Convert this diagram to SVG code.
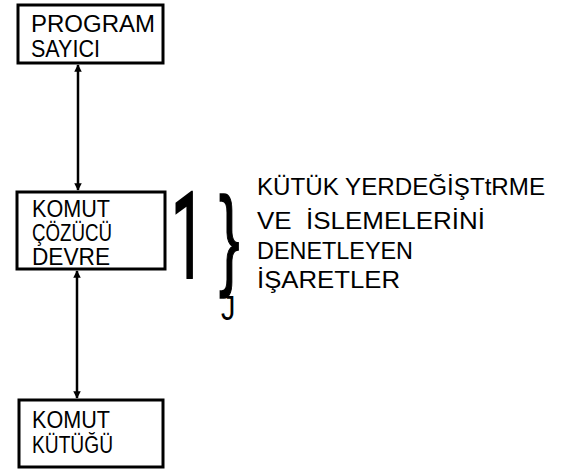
<svg xmlns="http://www.w3.org/2000/svg" width="565" height="470" viewBox="0 0 565 470">
<style>
.box{fill:#fff;stroke:#000;stroke-width:3}
.t{font-family:"Liberation Sans",Arial,sans-serif;fill:#000}
.bt{font-size:23px}
.rt{font-size:23px}
.conn{stroke:#000;stroke-width:2.5;fill:none;marker-start:url(#ah);marker-end:url(#ah)}
</style>
<defs>
<marker id="ah" viewBox="0 0 10 10" refX="9" refY="5" markerWidth="3" markerHeight="3.2" orient="auto-start-reverse" markerUnits="strokeWidth">
<path d="M0,0 L10,5 L0,10 z" fill="#000"/>
</marker>
</defs>
<rect width="565" height="470" fill="#fff"/>
<g id="connectors">
<line class="conn" x1="78" y1="65" x2="78" y2="190"/>
<line class="conn" x1="77" y1="271" x2="77" y2="398"/>
</g>
<g id="program-sayici">
<rect class="box" x="18" y="5" width="145" height="58"/>
<text class="t bt" x="31" y="32" textLength="124" lengthAdjust="spacingAndGlyphs">PROGRAM</text>
<text class="t bt" x="31" y="57" textLength="69" lengthAdjust="spacingAndGlyphs">SAYICI</text>
</g>
<g id="komut-cozucu">
<rect class="box" x="17" y="192" width="148" height="77"/>
<text class="t bt" x="32" y="217" textLength="78" lengthAdjust="spacingAndGlyphs">KOMUT</text>
<text class="t bt" x="32" y="241" textLength="80" lengthAdjust="spacingAndGlyphs">ÇÖZÜCÜ</text>
<text class="t bt" x="32" y="265" textLength="78" lengthAdjust="spacingAndGlyphs">DEVRE</text>
</g>
<g id="komut-kutugu">
<rect class="box" x="19" y="400" width="144" height="67"/>
<text class="t bt" x="32" y="428" textLength="78" lengthAdjust="spacingAndGlyphs">KOMUT</text>
<text class="t bt" x="32" y="453" textLength="81" lengthAdjust="spacingAndGlyphs">KÜTÜĞÜ</text>
</g>
<g id="annotation">
<text transform="translate(171,278) scale(0.5,1)" style="font-family:Roboto,'Liberation Sans',sans-serif;font-size:120px;fill:#000;stroke:#000;stroke-width:2">1</text>
<text class="t" transform="translate(219,275) scale(0.55,1)" style="font-size:112px;stroke:#000;stroke-width:1.5">}</text>
<text class="t" transform="translate(221,320) scale(0.8,1)" style="font-size:36px">J</text>
<text class="t rt" x="257" y="195" textLength="288" lengthAdjust="spacingAndGlyphs">KÜTÜK YERDEĞİŞTtRME</text>
<text class="t rt" x="257" y="229" textLength="228" lengthAdjust="spacingAndGlyphs" xml:space="preserve">VE  İSLEMELERİNİ</text>
<text class="t rt" x="257" y="259" textLength="156" lengthAdjust="spacingAndGlyphs">DENETLEYEN</text>
<text class="t rt" x="257" y="288" textLength="143" lengthAdjust="spacingAndGlyphs">İŞARETLER</text>
</g>
</svg>
